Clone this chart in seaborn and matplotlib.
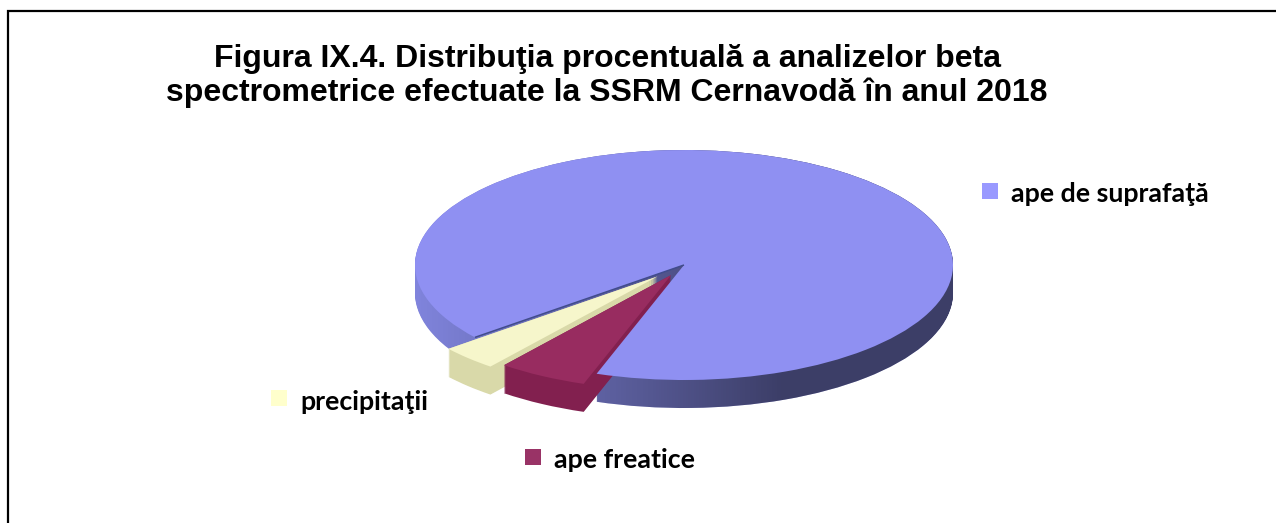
import numpy as np
import seaborn as sns
import matplotlib.pyplot as plt
from matplotlib.path import Path
from matplotlib.patches import Rectangle

# values
categories = ['ape de suprafaţă', 'ape freatice', 'precipitaţii']
values = [91.1, 5.4, 3.5]
explode = [0, 0.10, 0.14]
top_colors = ['#8f90f2', '#982c60', '#f6f6cb']
side_colors = ['#8084dc', '#82204f', '#d9d9a9']
legend_colors = ['#9999ff', '#993366', '#ffffcc']
title_lines = ['Figura IX.4. Distribuţia procentuală a analizelor beta',
               'spectrometrice efectuate la SSRM Cernavodă în anul 2018']
start_angle = 219

W, H = 1276, 523
sns.set_theme(style='white')
plt.rcParams['font.family'] = ['Liberation Sans', 'DejaVu Sans']

fig = plt.figure(figsize=(W / 100, H / 100), dpi=100)

# pie axes squashed to get the tilted look
cx, cy, rx, ry = 684, 265, 269, 115
lim = 1.4
ax = fig.add_axes([(cx - rx * lim) / W, 1 - (cy + ry * lim) / H,
                   2 * rx * lim / W, 2 * ry * lim / H])

def draw_pie(colors, offset, base_z):
    wedges, _ = ax.pie(values, colors=colors, explode=explode, startangle=start_angle,
                       counterclock=False, center=(0, -offset),
                       wedgeprops={'linewidth': 0})
    for w, z in zip(wedges, base_z):
        w.set_zorder(z)
        w.set_clip_on(False)
    return wedges

# side walls are stacked copies of the pie
depth = 28 / ry
blue_paths = []
for off in np.linspace(depth, 0, 29):
    wedges = draw_pie(side_colors, off, [1, 4, 3])
    blue_paths.append(wedges[0].get_path())

# top faces, blue one hides the inner walls of the pulled out slices
draw_pie(top_colors, 0, [5, 8, 7])

# darken the blue wall towards the right
u = np.linspace(0, 1, 256).reshape(1, -1)
shade = np.zeros((1, 256, 4))
shade[..., 3] = 0.53 * np.clip(u / 0.68, 0, 1)
img = ax.imshow(shade, extent=(-1, 1, -1.5, 1.5), aspect='auto', zorder=2,
                interpolation='bilinear')
img.set_clip_path(Path.make_compound_path(*blue_paths), transform=ax.transData)

# thin dark line along the upper edge of the notch
ang = np.radians(start_angle)
ax.plot([0, np.cos(ang)], [0, np.sin(ang)], color='#414c8c', lw=1.1, zorder=6,
        solid_capstyle='butt')

ax.set_xlim(-lim, lim)
ax.set_ylim(-lim, lim)
ax.set_aspect('auto')
ax.axis('off')

# overlay in pixel units for frame, title and the scattered legend
over = fig.add_axes([0, 0, 1, 1], zorder=10)
over.set_xlim(0, W)
over.set_ylim(H, 0)
over.axis('off')
over.patch.set_alpha(0)
over.plot([8, 8, W + 5], [H + 5, 11, 11], color='black', lw=1.6,
          solid_joinstyle='miter')

over.text(607, 59, title_lines[0], ha='center', va='center', fontsize=23,
          fontweight='bold', color='black')
over.text(607, 93, title_lines[1], ha='center', va='center', fontsize=23,
          fontweight='bold', color='black')

legend_pos = [(982, 183), (525, 449), (271, 390)]
for name, col, (x, y) in zip(categories, legend_colors, legend_pos):
    over.add_patch(Rectangle((x, y), 16, 16, facecolor=col, edgecolor='none'))
    over.text(x + 29, y + 11.5, name, ha='left', va='center', fontsize=19.3,
              fontweight='bold', color='black', family=['Lato', 'DejaVu Sans'])

fig.savefig('out.png', dpi=100, facecolor='white')
